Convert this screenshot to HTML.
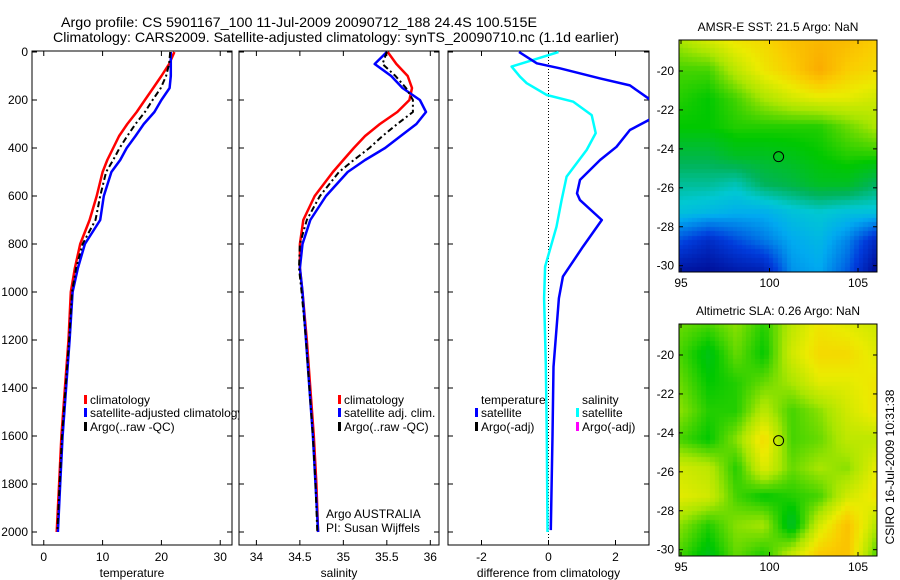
<!DOCTYPE html>
<html><head><meta charset="utf-8">
<style>
html,body{margin:0;padding:0;background:#fff;}
svg{display:block;font-family:"Liberation Sans",sans-serif;}
canvas{position:absolute;}
</style></head>
<body>
<div style="position:relative;width:900px;height:580px;">
<canvas id="map1" width="198" height="232" style="left:679px;top:40px;"></canvas>
<canvas id="map2" width="198" height="232" style="left:679px;top:324px;"></canvas>
<svg id="fig" width="900" height="580" style="position:absolute;left:0;top:0;"></svg>
</div>
<script>
// ---- data ----
const depths = [0,50,100,150,200,250,300,350,400,450,500,600,700,800,900,1000,1200,1400,1600,1800,2000];
const tempClim = [22.2,21.3,20,18.6,17.2,15.8,14.2,12.8,11.8,10.8,10,9,7.8,6.2,5.3,4.6,4.2,3.6,3.0,2.6,2.2];
const tempSat = [21.6,21.6,21.6,21.4,20,18.8,17,15.6,14.1,13,11.5,10.2,9.6,7,5.8,4.9,4.4,3.8,3.2,2.8,2.4];
const tempArgo = [21.5,21.3,20.8,19.9,18.5,17.2,15.6,14.2,12.9,11.8,10.6,9.6,8.8,6.6,5.5,4.8,4.3,3.7,3.1,2.7,2.3];
const salClim = [35.51,35.61,35.74,35.79,35.76,35.62,35.42,35.25,35.12,35.0,34.88,34.67,34.54,34.5,34.5,34.53,34.58,34.62,34.66,34.69,34.71];
const salSat = [35.5,35.36,35.55,35.68,35.88,35.95,35.84,35.66,35.48,35.25,35.05,34.8,34.62,34.53,34.5,34.53,34.57,34.61,34.65,34.68,34.71];
const salArgo = [35.5,35.45,35.6,35.72,35.8,35.8,35.62,35.45,35.3,35.12,34.95,34.73,34.58,34.5,34.49,34.52,34.57,34.61,34.65,34.68,34.7];
const dTdepth = [0,47,68,110,139,200,240,283,325,395,450,533,589,617,700,811,936,1026,1312,1600,1992];
const dTemp = [-0.88,-0.35,0.34,1.54,2.43,3.05,3.4,3.0,2.43,2.03,1.54,0.94,0.85,0.94,1.59,1.03,0.43,0.31,0.15,0.12,0.07];
const dSdepth = [0,33,61,103,130,179,207,263,338,408,519,617,728,894,1026,1300,1600,2000];
const dSal = [0.3,-0.46,-1.1,-0.85,-0.65,-0.05,0.74,1.29,1.41,1.14,0.54,0.39,0.24,-0.1,-0.13,-0.08,-0.05,-0.03];
const depthTicks = [0,200,400,600,800,1000,1200,1400,1600,1800,2000];
const tempTicks = [0,10,20,30];
const salTicks = [34,34.5,35,35.5,36];
const salTickLabels = ["34","34.5","35","35.5","36"];
const diffTicks = [-2,0,2];
const lonTicks = [95,100,105];
const latTicks = [-20,-22,-24,-26,-28,-30];
const argoLon = 100.515, argoLat = -24.4;
const sstGrid = [
[0.68,0.72,0.76,0.78,0.82,0.84,0.83,0.8],
[0.62,0.62,0.7,0.76,0.8,0.86,0.8,0.78],
[0.6,0.58,0.62,0.68,0.72,0.74,0.74,0.72],
[0.58,0.58,0.6,0.6,0.6,0.6,0.64,0.68],
[0.52,0.52,0.55,0.55,0.56,0.58,0.6,0.6],
[0.46,0.46,0.44,0.5,0.52,0.55,0.55,0.5],
[0.4,0.38,0.36,0.36,0.4,0.42,0.4,0.4],
[0.22,0.15,0.22,0.28,0.35,0.38,0.3,0.15],
[0.08,0.06,0.1,0.12,0.32,0.35,0.25,0.06]];
const slaGrid = [
[0.64,0.62,0.66,0.6,0.7,0.76,0.74,0.72],
[0.62,0.56,0.64,0.58,0.72,0.78,0.78,0.74],
[0.64,0.58,0.6,0.64,0.68,0.74,0.74,0.76],
[0.66,0.6,0.6,0.7,0.62,0.66,0.72,0.76],
[0.62,0.58,0.66,0.78,0.62,0.64,0.7,0.7],
[0.72,0.7,0.6,0.74,0.64,0.68,0.66,0.74],
[0.74,0.72,0.62,0.58,0.6,0.62,0.72,0.76],
[0.66,0.6,0.66,0.68,0.54,0.72,0.82,0.7],
[0.62,0.56,0.64,0.6,0.7,0.8,0.82,0.64]];
const cmapStops=[[0,[0,0,130]],[0.2,[0,60,220]],[0.35,[0,170,240]],[0.42,[0,200,210]],[0.5,[0,180,90]],[0.58,[0,200,0]],[0.68,[170,230,0]],[0.75,[235,235,0]],[0.8,[250,205,0]],[0.88,[250,160,0]],[1,[250,100,0]]];

// ---- helpers ----
const NS="http://www.w3.org/2000/svg";
const svg=document.getElementById('fig');
function el(tag,attrs,parent){const e=document.createElementNS(NS,tag);for(const k in attrs)e.setAttribute(k,attrs[k]);(parent||svg).appendChild(e);return e;}
function txt(s,x,y,opt,parent){const t=el('text',Object.assign({x:x,y:y,'font-size':12,fill:'#000'},opt||{}),parent);t.textContent=s;return t;}
const yD=d=>52+d*0.24;
const TOP=51,BOT=545;
function xLin(lo,hi,x0,x1){return v=>x0+(v-lo)/(hi-lo)*(x1-x0);}
const xT=xLin(-2,32,32,232), xS=xLin(33.8,36.1,239,439), xDf=xLin(-3,3,448,649);

const defs=el('defs',{});
[['c1',32,232],['c2',239,439],['c3',448,649]].forEach(([id,a,b])=>{const c=el('clipPath',{id:id},defs);el('rect',{x:a,y:TOP,width:b-a,height:BOT-TOP},c);});
const cl=el('clipPath',{id:'cleg1'},defs);el('rect',{x:32,y:380,width:207,height:60},cl);

function panel(name,x0,x1,xs,ticks,labels,title,showY){
  const g=el('g',{});
  
  
  el('rect',{x:x0,y:TOP,width:x1-x0,height:BOT-TOP,fill:'none',stroke:'#000','stroke-width':1},g);
  depthTicks.forEach(d=>{
    const y=yD(d);
    el('line',{x1:x0,x2:x0+5,y1:y,y2:y,stroke:'#000'},g);
    el('line',{x1:x1-5,x2:x1,y1:y,y2:y,stroke:'#000'},g);
    if(showY){const t=txt(String(d),28,y+4,{'text-anchor':'end'},g);}
  });
  ticks.forEach((v,i)=>{
    const x=xs(v);
    el('line',{x1:x,x2:x,y1:TOP,y2:TOP+5,stroke:'#000'},g);
    el('line',{x1:x,x2:x,y1:BOT-5,y2:BOT,stroke:'#000'},g);
    const t=txt(labels[i],x,561,{'text-anchor':'middle'},g);
    
    
  });
  const at=txt(title,(x0+x1)/2,577,{'text-anchor':'middle'},g);
  
  
  return g;
}
function line(xs,vals,ds,color,w,clip,name,dash){
  const pts=vals.map((v,i)=>xs(v).toFixed(1)+','+yD(ds[i]).toFixed(1)).join(' ');
  const p=el('polyline',{points:pts,fill:'none',stroke:color,'stroke-width':w,'clip-path':'url(#'+clip+')','stroke-linejoin':'round'});
  if(dash)p.setAttribute('stroke-dasharray',dash);
  
  
  return p;
}

const t1=txt('Argo profile: CS 5901167_100 11-Jul-2009 20090712_188 24.4S 100.515E',61,27,{'font-size':14,textLength:476,lengthAdjust:'spacingAndGlyphs'});


const t2=txt('Climatology: CARS2009. Satellite-adjusted climatology: synTS_20090710.nc (1.1d earlier)',53,42,{'font-size':14,textLength:566,lengthAdjust:'spacingAndGlyphs'});



panel('temperature-panel',32,232,xT,tempTicks,tempTicks.map(String),'temperature',true);
line(xT,tempClim,depths,'#f00',2.5,'c1','temp-climatology-line');
line(xT,tempSat,depths,'#00f',2.5,'c1','temp-satellite-line');
line(xT,tempArgo,depths,'#000',2,'c1','temp-argo-line','6,3,2,3');
panel('salinity-panel',239,439,xS,salTicks,salTickLabels,'salinity',false);
line(xS,salClim,depths,'#f00',2.5,'c2','sal-climatology-line');
line(xS,salSat,depths,'#00f',2.5,'c2','sal-satellite-line');
line(xS,salArgo,depths,'#000',2,'c2','sal-argo-line','6,3,2,3');
panel('difference-panel',448,649,xDf,diffTicks,diffTicks.map(String),'difference from climatology',false);
const zl=el('line',{x1:xDf(0),x2:xDf(0),y1:TOP,y2:BOT,stroke:'#000','stroke-dasharray':'1,2'});


line(xDf,dSal,dSdepth,'#0ff',2.5,'c3','salinity-diff-line');
line(xDf,dTemp,dTdepth,'#00f',2.5,'c3','temperature-diff-line');

function legItem(x,y,color,label,clip){
  const g=el('g',clip?{'clip-path':'url(#'+clip+')'}:{});
  
  
  if(color)el('rect',{x:x-6,y:y-9,width:3,height:9,fill:color},g);
  txt(label,x,y,{},g);
}
legItem(90,404,'#f00','climatology','cleg1');
legItem(90,417,'#00f','satellite-adjusted climatology','cleg1');
legItem(90,431,'#000','Argo(..raw -QC)','cleg1');
legItem(344,404,'#f00','climatology');
legItem(344,417,'#00f','satellite adj. clim.');
legItem(344,431,'#000','Argo(..raw -QC)');
legItem(481,404,null,'temperature');
legItem(481,417,'#00f','satellite');
legItem(481,431,'#000','Argo(-adj)');
legItem(582,404,null,'salinity');
legItem(582,417,'#0ff','satellite');
legItem(582,431,'#f0f','Argo(-adj)');
const a1=txt('Argo AUSTRALIA',326,518,{});
const a2=txt('PI: Susan Wijffels',326,532,{});

function cmap(v){
  v=Math.max(0,Math.min(1,v));
  for(let k=1;k<cmapStops.length;k++){
    const [p1,c1]=cmapStops[k];
    if(v<=p1){const [p0,c0]=cmapStops[k-1];const t=(v-p0)/(p1-p0);
      return 'rgb('+c0.map((c,i)=>Math.round(c+(c1[i]-c)*t)).join(',')+')';}
  }
  return 'rgb(250,100,0)';
}
function drawMap(id,grid){
  const c=document.getElementById(id).getContext('2d');
  const nx=44,ny=52,R=grid.length,C=grid[0].length;
  for(let j=0;j<ny;j++)for(let i=0;i<nx;i++){
    const fy=j/(ny-1)*(R-1),fx=i/(nx-1)*(C-1);
    const y0=Math.floor(fy),x0=Math.floor(fx),y1=Math.min(y0+1,R-1),x1=Math.min(x0+1,C-1);
    const ty=fy-y0,tx=fx-x0;
    const v=(grid[y0][x0]*(1-tx)+grid[y0][x1]*tx)*(1-ty)+(grid[y1][x0]*(1-tx)+grid[y1][x1]*tx)*ty;
    c.fillStyle=cmap(v);
    c.fillRect(Math.floor(i*4.5),Math.floor(j*232/ny),5,5);
  }
}
drawMap('map1',sstGrid);drawMap('map2',slaGrid);
function mapFrame(name,top,title){
  const g=el('g',{});
  
  
  const x0=679,x1=877,y1=top+232;
  const lx=v=>681+(v-95)*17.7;
  const ly=v=>top+31+(-20-v)*19.47;
  el('rect',{x:x0,y:top,width:198,height:232,fill:'none',stroke:'#000'},g);
  lonTicks.forEach(v=>{const x=lx(v);el('line',{x1:x,x2:x,y1:top,y2:top+4,stroke:'#000'},g);el('line',{x1:x,x2:x,y1:y1-4,y2:y1,stroke:'#000'},g);
    const t=txt(String(v),x,y1+15,{'text-anchor':'middle'},g);});
  latTicks.forEach(v=>{const y=ly(v);el('line',{x1:x0,x2:x0+4,y1:y,y2:y,stroke:'#000'},g);el('line',{x1:x1-4,x2:x1,y1:y,y2:y,stroke:'#000'},g);
    const t=txt(String(v),674,y+4,{'text-anchor':'end'},g);});
  const m=el('circle',{cx:lx(argoLon),cy:ly(argoLat),r:5,fill:'none',stroke:'#000'},g);
  
  
  const tt=txt(title,778,top-9,{'text-anchor':'middle'},g);
  
  
}
mapFrame('sst-map',40,'AMSR-E SST: 21.5 Argo: NaN');
mapFrame('sla-map',324,'Altimetric SLA: 0.26 Argo: NaN');
const cs=txt('CSIRO 16-Jul-2009 10:31:38',894,467,{'text-anchor':'middle',transform:'rotate(-90 894 467)'});


</script>
</body></html>
